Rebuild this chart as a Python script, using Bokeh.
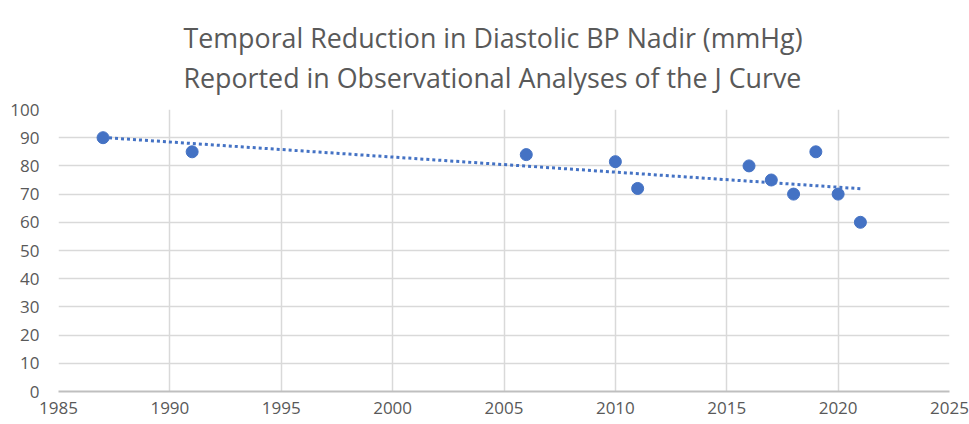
import numpy as np
from bokeh.plotting import figure
from bokeh.models import Range1d, FixedTicker, ColumnDataSource
from bokeh.embed import file_html
from bokeh.resources import INLINE

# ---- data ----
years = [1987, 1991, 2006, 2010, 2011, 2016, 2017, 2018, 2019, 2020, 2021]
dbp_nadir = [90, 85, 84, 81.5, 72, 80, 75, 70, 85, 70, 60]
x_ticks = [1985, 1990, 1995, 2000, 2005, 2010, 2015, 2020, 2025]
y_ticks = [0, 10, 20, 30, 40, 50, 60, 70, 80, 90, 100]
title_lines = ["Temporal Reduction in Diastolic BP Nadir (mmHg)",
               "Reported in Observational Analyses of the J Curve"]

BLUE = "#4472C4"
GRID = "#d9d9d9"
TXT = "#595959"
FONT = "Open Sans"

p = figure(width=969, height=424, output_backend="svg", toolbar_location=None,
           x_range=Range1d(x_ticks[0], x_ticks[-1]), y_range=Range1d(y_ticks[0], y_ticks[-1]),
           min_border_left=58, min_border_right=20, min_border_top=109, min_border_bottom=33)
p.outline_line_color = None
p.background_fill_color = "white"
p.border_fill_color = "white"

p.title.text = "\n".join(title_lines)
p.title.align = "left"
p.title.offset = 125
p.title.vertical_align = "bottom"
p.title.text_font = FONT
p.title.text_font_size = "26.8px"
p.title.text_font_style = "normal"
p.title.text_color = TXT
p.title.text_line_height = 1.09
p.title.standoff = 26

# axes
p.xaxis.ticker = FixedTicker(ticks=x_ticks)
p.yaxis.ticker = FixedTicker(ticks=y_ticks)
for ax in (p.xaxis, p.yaxis):
    ax.major_tick_line_color = None
    ax.minor_tick_line_color = None
    ax.major_tick_out = 0
    ax.major_tick_in = 0
    ax.major_label_text_font = FONT
    ax.major_label_text_font_size = "17px"
    ax.major_label_text_color = TXT
p.yaxis.axis_line_color = None
p.yaxis.major_label_standoff = 19
p.xaxis.axis_line_color = "#bfbfbf"
p.xaxis.axis_line_width = 2
p.xaxis.major_label_standoff = 10

p.xgrid.grid_line_color = GRID
p.ygrid.grid_line_color = GRID
p.xgrid.grid_line_width = 1.5
p.ygrid.grid_line_width = 1.5

# linear trendline
coef = np.polyfit(years, dbp_nadir, 1)
tx = [min(years), max(years)]
ty = [coef[0] * t + coef[1] for t in tx]
p.line(tx, ty, line_color=BLUE, line_width=3, line_dash="3 3")

src = ColumnDataSource(dict(x=years, y=dbp_nadir))
p.scatter("x", "y", source=src, size=12, fill_color=BLUE, line_color=BLUE)

open("out.html", "w").write(file_html(p, INLINE))
